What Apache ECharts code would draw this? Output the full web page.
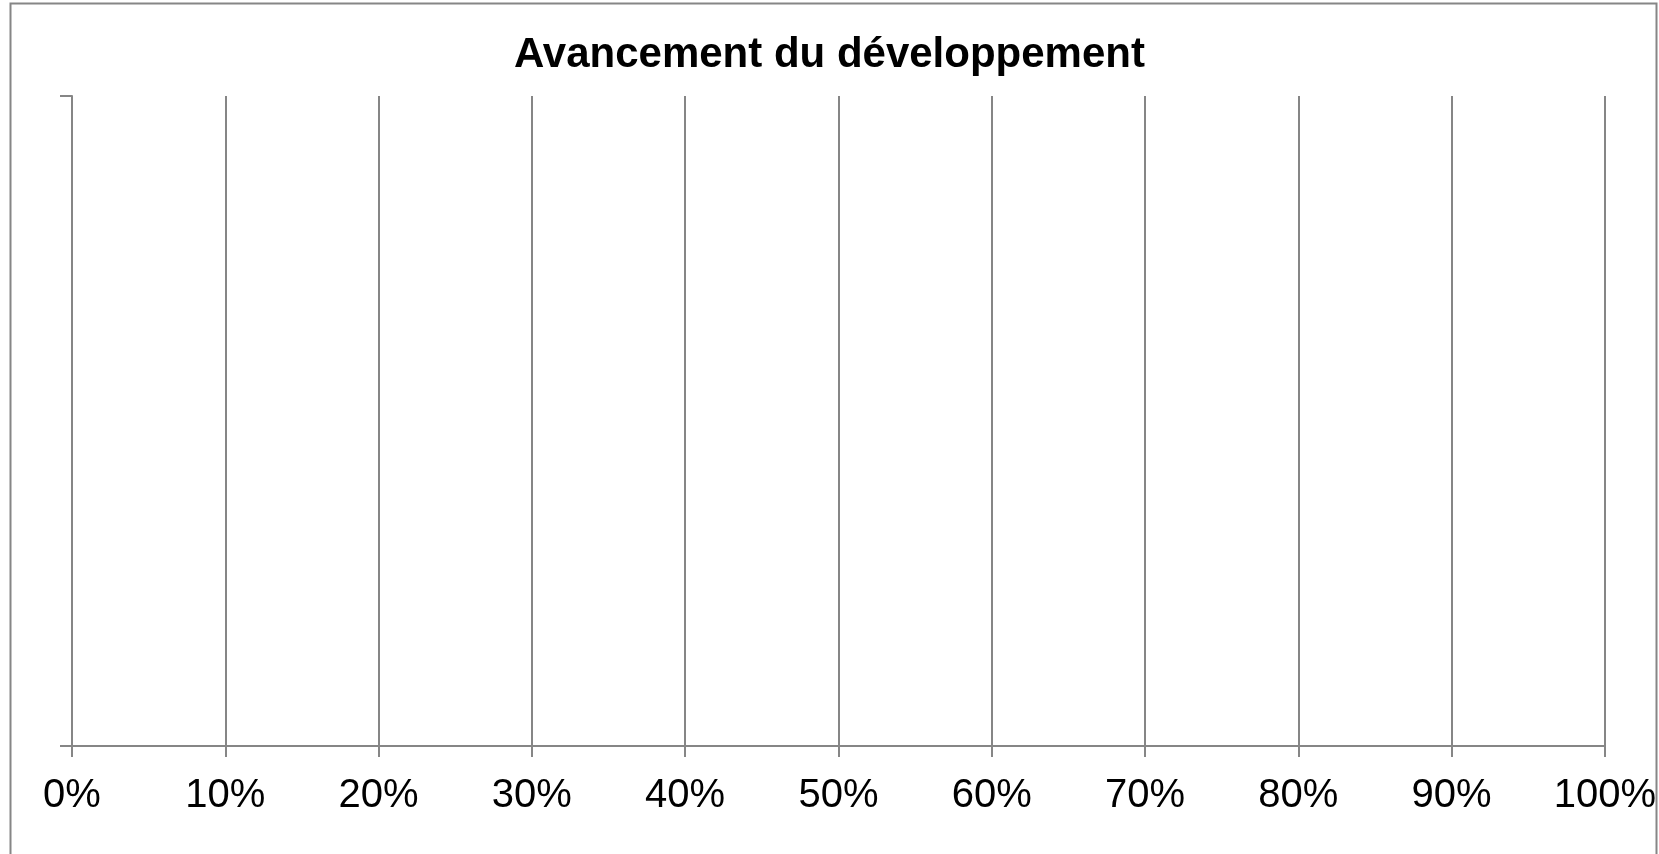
<!DOCTYPE html>
<html>
<head>
<meta charset="utf-8">
<script src="https://cdn.jsdelivr.net/npm/echarts@6/dist/echarts.min.js"></script>
<style>
html, body { margin: 0; padding: 0; background: #fff; }
#main { width: 1659px; height: 854px; }
</style>
</head>
<body>
<div id="main"></div>
<script>
// empty chart : one blank category, no values yet
var chartName = 'Avancement du développement';
var categories = [ '' ];
var progressData = [];
var xTicks = [ 0, 0.1, 0.2, 0.3, 0.4, 0.5, 0.6, 0.7, 0.8, 0.9, 1 ];

var grey = '#868686';

option = {
	animation : false,
	title : {
		text : chartName,
		left : 'center',
		top : 29,
		textStyle : {
			fontFamily : 'Liberation Sans',
			fontWeight : 'bold',
			fontSize : 42,
			color : '#000'
		}
	},
	graphic : [ {
		type : 'rect',
		silent : true,
		shape : { x : 10.5, y : 3.5, width : 1646, height : 900 },
		style : { fill : 'none', stroke : grey, lineWidth : 2 }
	} ],
	grid : {
		left : 72,
		right : 54,
		top : 96,
		bottom : 108
	},
	xAxis : [ {
		type : 'value',
		min : xTicks[0],
		max : xTicks[xTicks.length - 1],
		interval : 0.1,
		axisLine : { show : true, lineStyle : { color : grey, width : 2 } },
		axisTick : { show : true, length : 11, lineStyle : { color : grey, width : 2 } },
		splitLine : { show : true, lineStyle : { color : grey, width : 2 } },
		axisLabel : {
			margin : 30,
			fontFamily : 'Liberation Sans',
			fontSize : 40,
			color : '#000',
			formatter : function(v) {
				return Math.round(v * 100) + '%';
			}
		}
	} ],
	yAxis : [ {
		type : 'category',
		data : categories,
		axisLine : { show : true, lineStyle : { color : grey, width : 2 } },
		axisTick : { show : true, length : 12, lineStyle : { color : grey, width : 2 } },
		axisLabel : { show : false },
		splitLine : { show : false }
	} ],
	series : [ {
		name : chartName,
		type : 'bar',
		data : progressData
	} ]
};

myChart = echarts.init(document.getElementById('main'));
myChart.setOption(option, true);
</script>
</body>
</html>
